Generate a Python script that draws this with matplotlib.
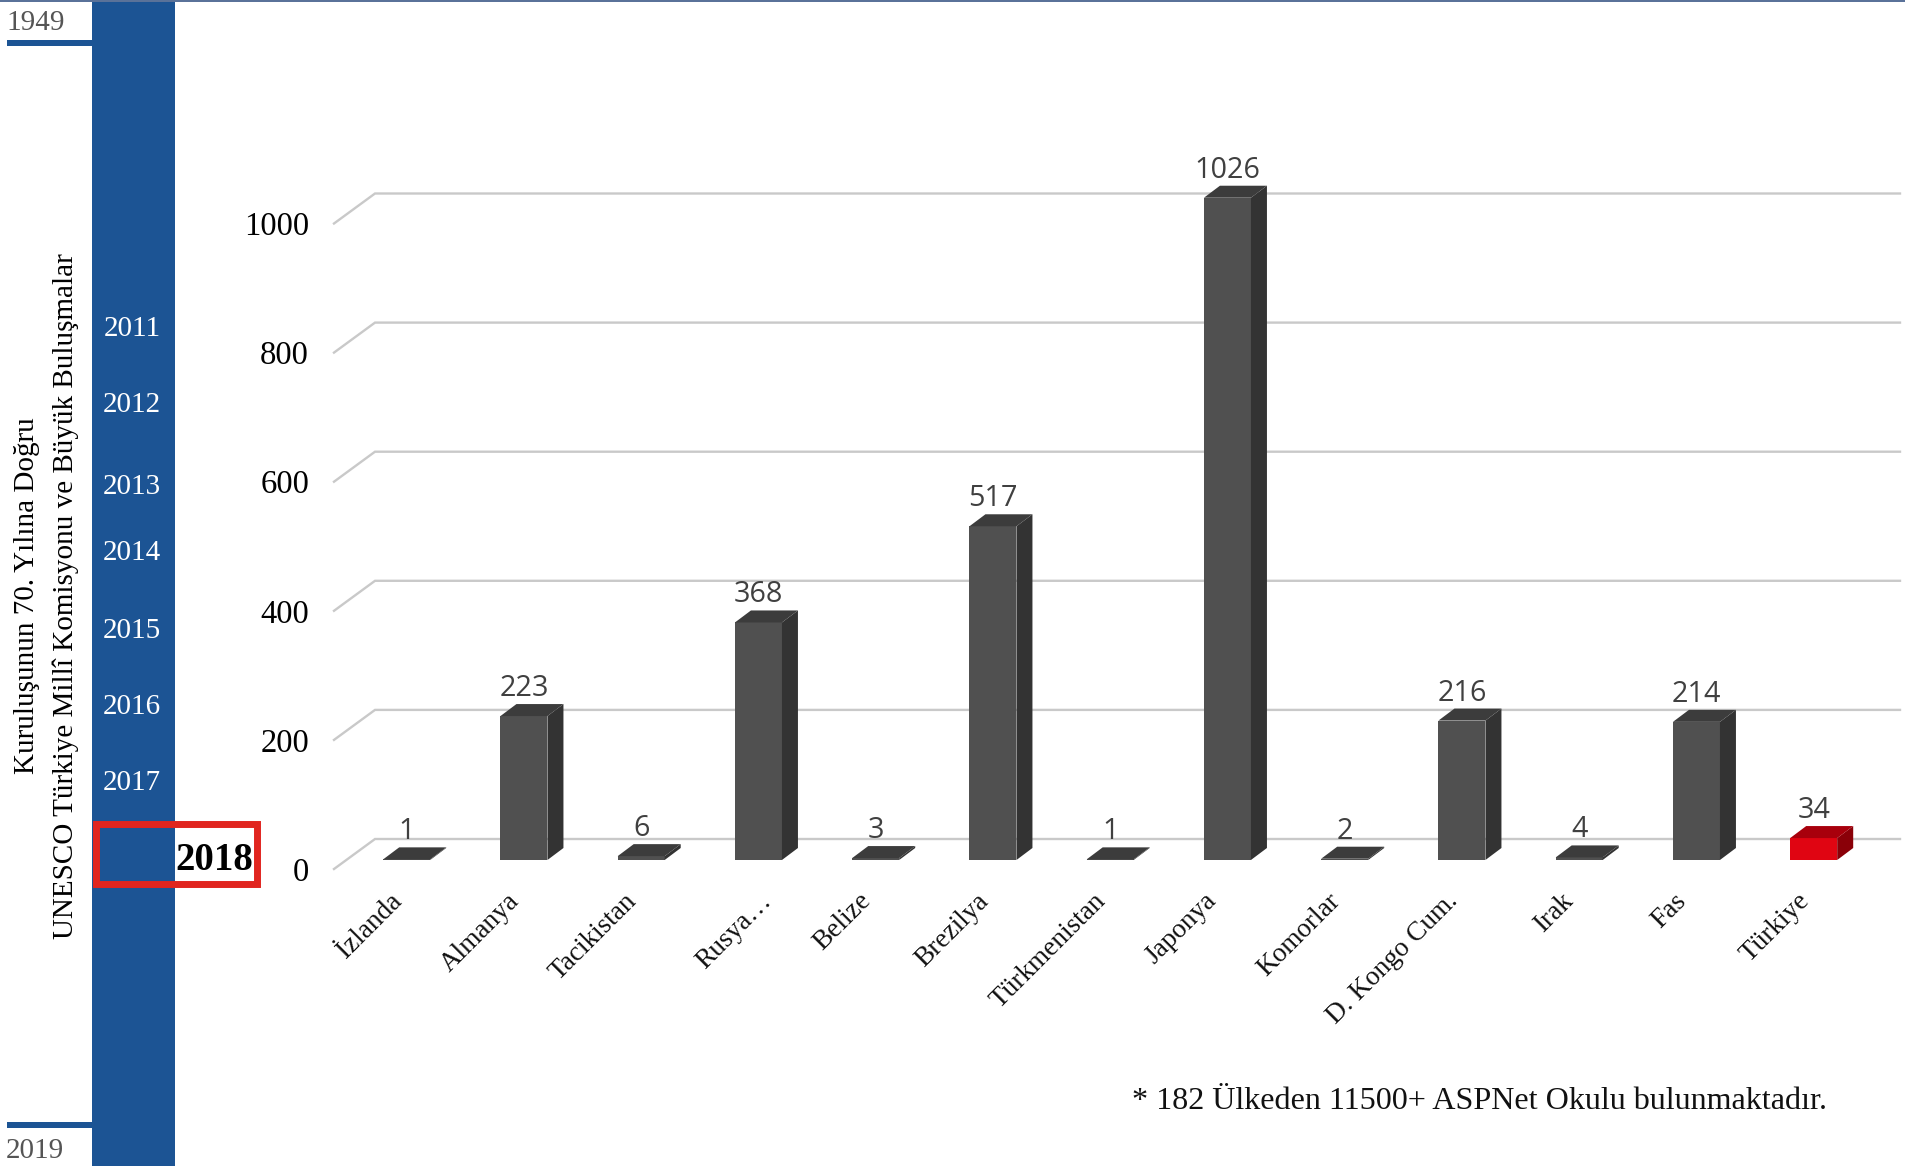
import matplotlib
matplotlib.use("Agg")
import matplotlib.pyplot as plt
from matplotlib.patches import Polygon, Rectangle
from matplotlib.transforms import Affine2D

categories = ["İzlanda", "Almanya", "Tacikistan", "Rusya…", "Belize", "Brezilya", "Türkmenistan",
              "Japonya", "Komorlar", "D. Kongo Cum.", "Irak", "Fas", "Türkiye"]
values = [1, 223, 6, 368, 3, 517, 1, 1026, 2, 216, 4, 214, 34]
y_ticks = [0, 200, 400, 600, 800, 1000]
timeline_years = ["2011", "2012", "2013", "2014", "2015", "2016", "2017"]
timeline_y = [326, 401, 484, 549, 628, 704, 780]

W, H = 1905, 1166
SERIF = "Liberation Serif"
BLUE = "#1c5494"

fig = plt.figure(figsize=(W / 100, H / 100), dpi=100, facecolor="white")

# pixel coords for the timeline strip, y going down like in the picture
px = Affine2D().scale(1, -1).translate(0, H)

# chart scale: one category = 117.25 px, one unit = 0.6455 px
STEP, UNIT = 117.25, 0.6455
ax_l, ax_r, ax_t, ax_b = 334, 1905, 100, 890
base_x, base_y = 406.7, 860
ax = fig.add_axes([ax_l / W, 1 - ax_b / H, (ax_r - ax_l) / W, (ax_b - ax_t) / H])
ax.set_xlim((ax_l - base_x) / STEP, (ax_r - base_x) / STEP)
ax.set_ylim((base_y - ax_b) / UNIT, (base_y - ax_t) / UNIT)
ax.patch.set_alpha(0)
for s in ax.spines.values():
    s.set_visible(False)

# depth of the fake 3d, in data units
bar_w = 47 / STEP
dep_x, dep_y = 16 / STEP, 12 / UNIT

# floor / gridlines
grid_x0 = ax.get_xlim()[0]
grid_x1 = grid_x0 + 41 / STEP
grid_x2 = (1900 - base_x) / STEP
for t in y_ticks:
    ax.plot([grid_x0, grid_x1, grid_x2], [t - 9 / UNIT, t + 21 / UNIT, t + 21 / UNIT],
            color="#c9c9c9", lw=1.7, zorder=1, clip_on=False, solid_joinstyle="miter")

for i, (name, v) in enumerate(zip(categories, values)):
    if name == "Türkiye":
        front, side, top = "#e00512", "#8a0008", "#a8000c"
    else:
        front, side, top = "#505050", "#333333", "#3c3c3c"
    l, r = i - bar_w / 2, i + bar_w / 2
    ax.bar(i, v, width=bar_w, color=front, zorder=3)
    ax.add_patch(Polygon([(r, 0), (r + dep_x, dep_y), (r + dep_x, v + dep_y), (r, v)],
                         facecolor=side, edgecolor="none", zorder=3))
    ax.add_patch(Polygon([(l, v), (l + dep_x, v + dep_y), (r + dep_x, v + dep_y), (r, v)],
                         facecolor=top, edgecolor="none", zorder=3))
    ax.text(i, v + dep_y + 8 / UNIT, str(v), ha="center", va="baseline",
            family="Open Sans", fontsize=20.7, color="#404040", zorder=4)

# axis labels
ax.set_yticks(y_ticks)
ax.set_xticks(range(len(categories)))
ax.set_xticklabels(categories, rotation=45, ha="right", va="top", rotation_mode="anchor",
                   family=SERIF, fontsize=19.6, color="#111111")
ax.tick_params(axis="both", length=0)
ax.tick_params(axis="x", pad=1)
ax.tick_params(axis="y", pad=18, labelsize=23.5)
for lab in ax.get_yticklabels():
    lab.set_family(SERIF)
    lab.set_transform(lab.get_transform() + Affine2D().translate(0, -9))
# a few labels sit a bit off the common anchor in the original
nudge = {"Rusya…": 18, "Japonya": -7, "Fas": -6, "Irak": -2}
for lab, name in zip(ax.get_xticklabels(), categories):
    lab.set_transform(lab.get_transform() + Affine2D().translate(-17 + nudge.get(name, 0), 3))

# timeline strip on the left
art = []
art.append(Rectangle((92, 0), 83, H, facecolor=BLUE, edgecolor="none"))
art.append(Rectangle((7, 40), 85, 6, facecolor=BLUE, edgecolor="none"))
art.append(Rectangle((7, 1122), 85, 6, facecolor=BLUE, edgecolor="none"))
art.append(Rectangle((0, 0), W, 1.5, facecolor="#5a7299", edgecolor="none"))
art.append(Rectangle((175, 823), 82, 60, facecolor="white", edgecolor="none"))
art.append(Rectangle((95.5, 823.5), 161, 60, facecolor="none", edgecolor="#e1251f", lw=5))
for p in art:
    p.set_transform(px)
    p.set_clip_on(False)
    fig.add_artist(p)


def label(x, y, s, **kw):
    kw.setdefault("family", SERIF)
    kw.setdefault("ha", "center")
    kw.setdefault("va", "center")
    fig.text(x, y, s, transform=px, **kw)


label(36, 23, "1949", fontsize=21, color="#555555")
label(35, 1151, "2019", fontsize=21, color="#555555")
for yr, yy in zip(timeline_years, timeline_y):
    label(132, yy + 3.5, yr, fontsize=21, color="white")
label(214, 860, "2018", fontsize=28, color="black", fontweight="bold")
label(27, 596, "Kuruluşunun 70. Yılına Doğru", fontsize=21, color="black", rotation=90)
label(66, 596, "UNESCO Türkiye Millî Komisyonu ve Büyük Buluşmalar", fontsize=21, color="black", rotation=90)
label(1480, 1101.5, "* 182 Ülkeden 11500+ ASPNet Okulu bulunmaktadır.", fontsize=23.1, color="#111111")

fig.savefig("out.png", dpi=100)
